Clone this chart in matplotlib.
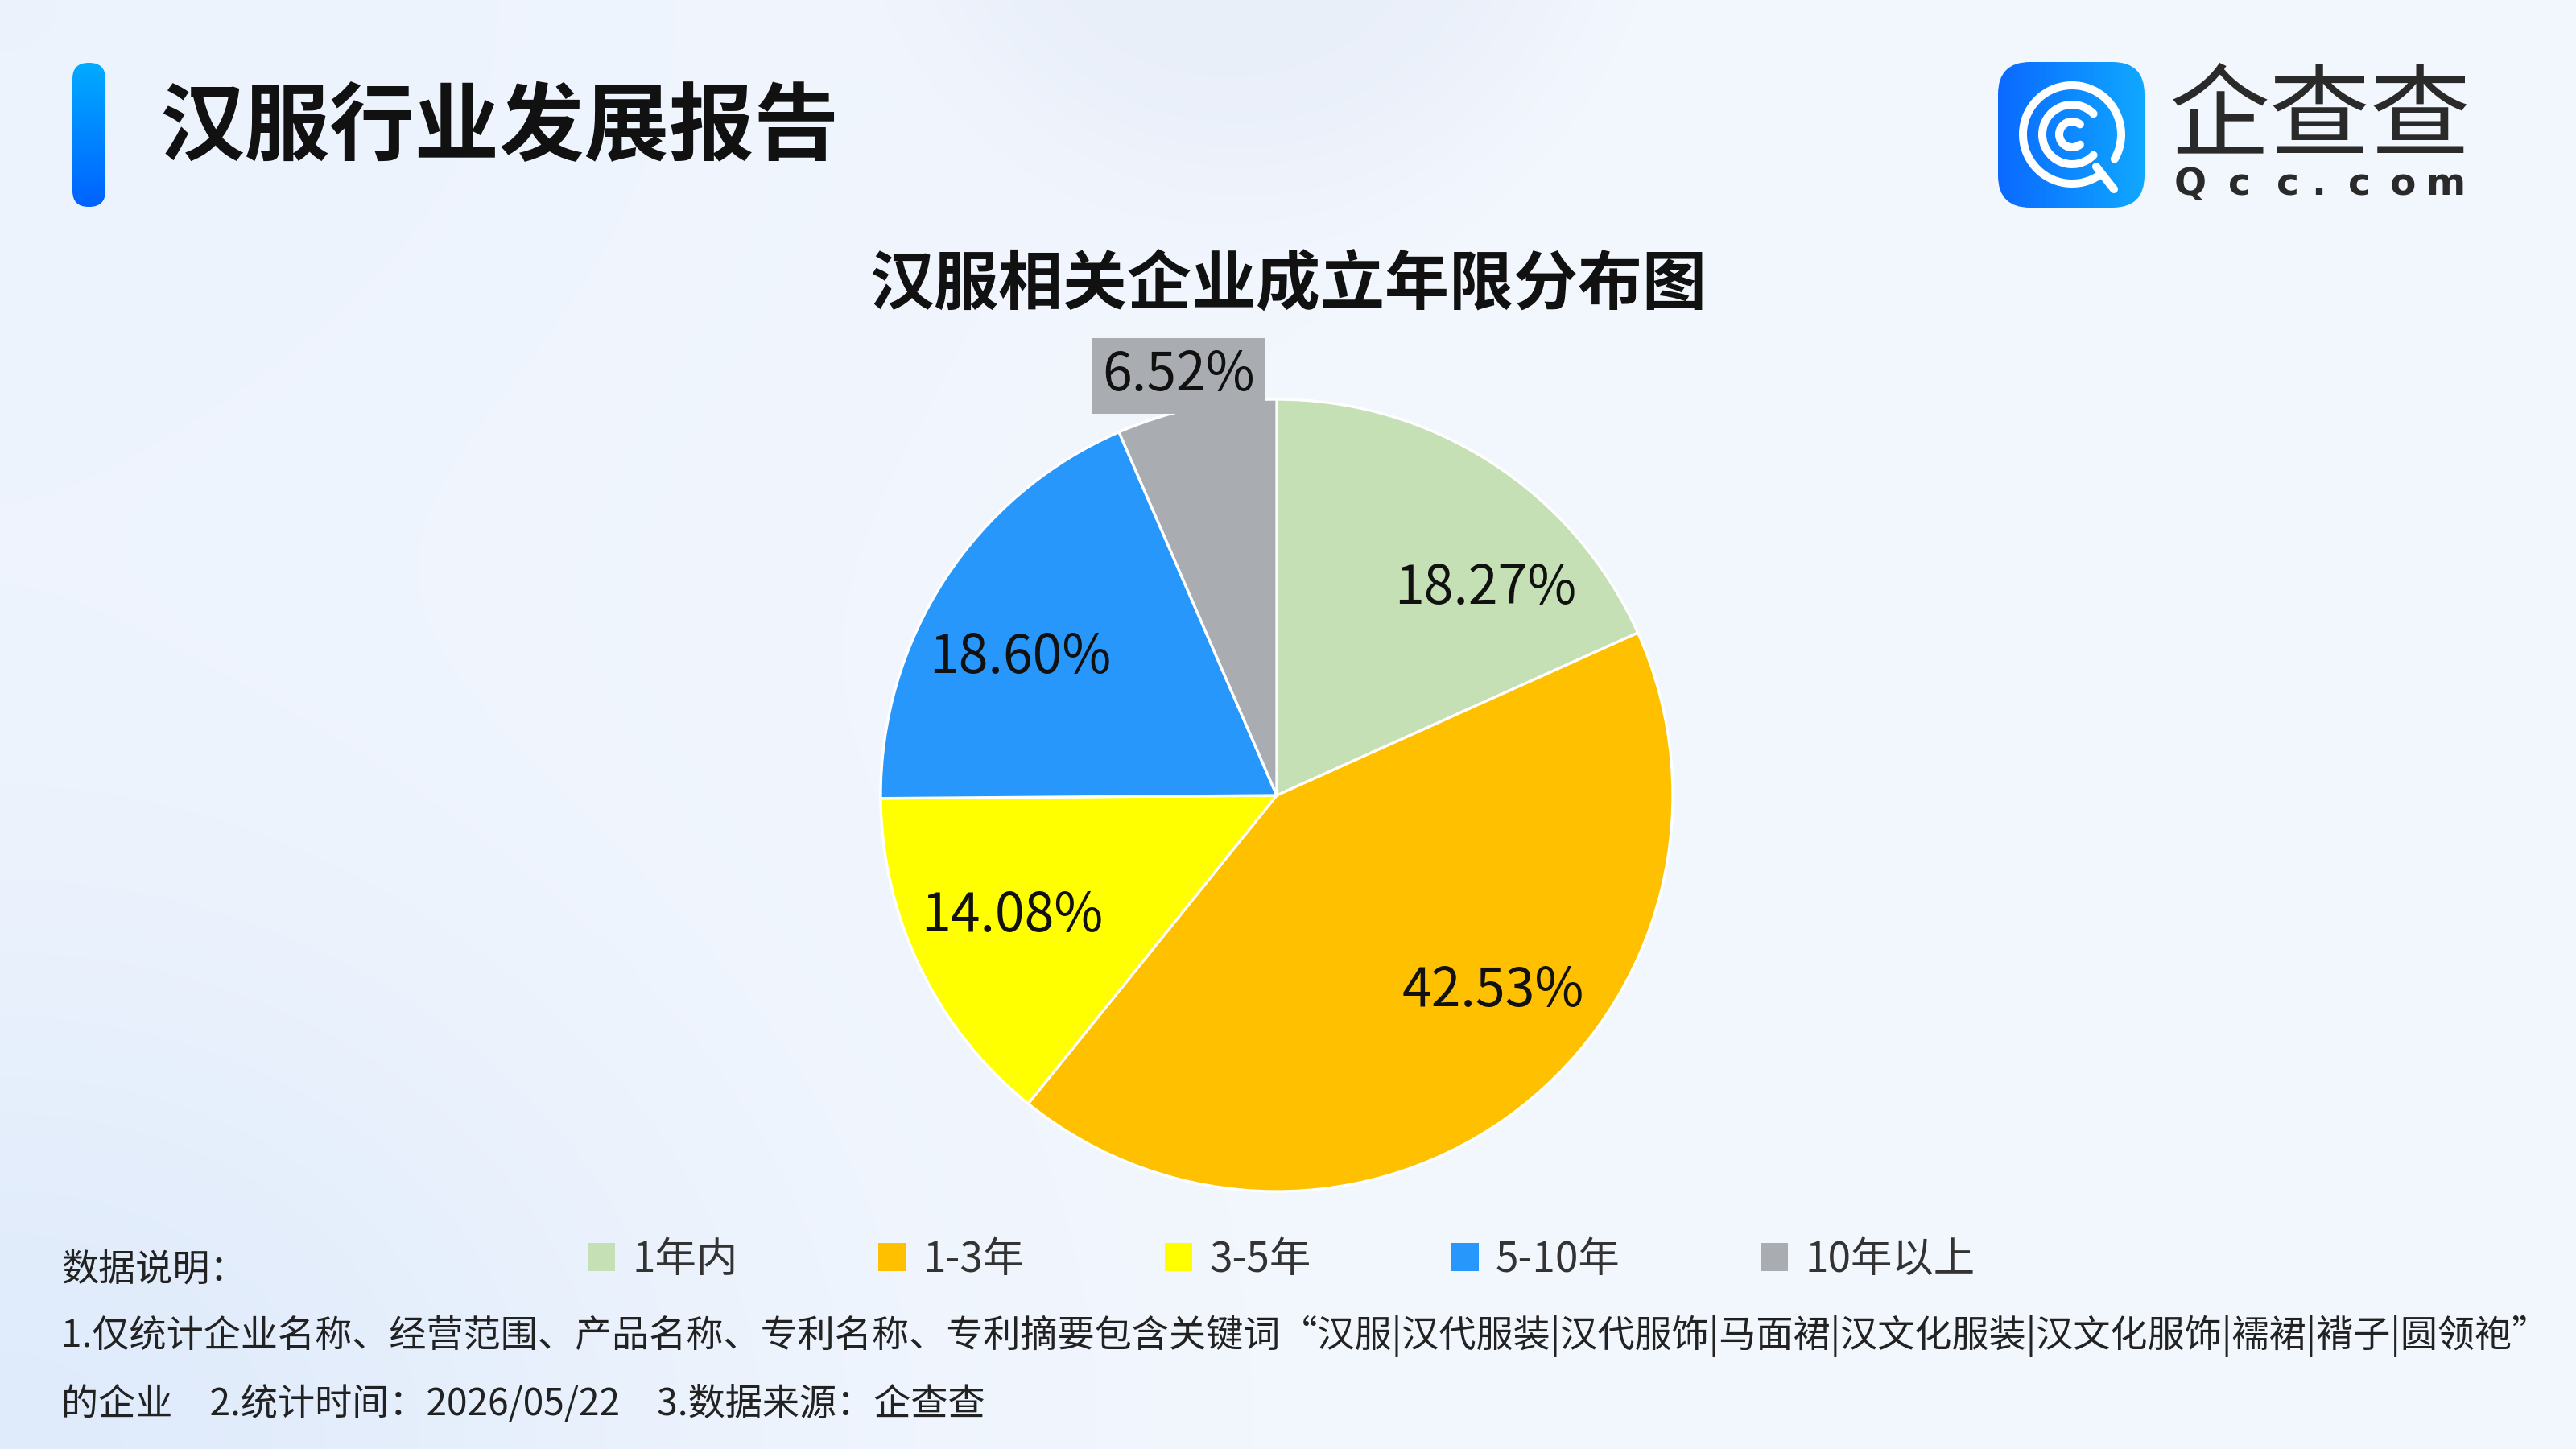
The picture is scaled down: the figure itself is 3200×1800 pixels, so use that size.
import numpy as np
import matplotlib
matplotlib.use('Agg')
import matplotlib.pyplot as plt
from matplotlib.patches import FancyBboxPatch, Arc, Patch
from matplotlib.lines import Line2D

plt.rcParams['font.family'] = ['Noto Sans CJK SC', 'DejaVu Sans']

# ---------------- data ----------------
report_title = '汉服行业发展报告'
chart_title = '汉服相关企业成立年限分布图'
categories = ['1年内', '1-3年', '3-5年', '5-10年', '10年以上']
shares = [18.27, 42.53, 14.08, 18.60, 6.52]
colors = ['#C5E0B4', '#FFC000', '#FFFF00', '#2897FB', '#A9ADB1']
brand_cn = '企查查'
brand_en = 'Qcc.com'
note_head = '数据说明：'
note_line1 = ('1.仅统计企业名称、经营范围、产品名称、专利名称、专利摘要包含关键词'
              '“汉服|汉代服装|汉代服饰|马面裙|汉文化服装|汉文化服饰|襦裙|褙子|圆领袍”')
note_line2 = '的企业\u30002.统计时间：2026/05/22\u30003.数据来源：企查查'

# ---------------- figure ----------------
W, H = 3200, 1800
fig = plt.figure(figsize=(16, 9), dpi=200)

# background
bg = fig.add_axes([0, 0, 1, 1])
bg.axis('off')
X, Y = np.meshgrid(np.linspace(0, W, 640), np.linspace(0, H, 360))
base = np.array([0xF3, 0xF7, 0xFE]) / 255.0
tint = np.array([0xD9, 0xE7, 0xFA]) / 255.0
grey = np.array([0xE6, 0xEC, 0xF7]) / 255.0
w_bl = np.exp(-(((X - 0) / 900.0) ** 2 + ((Y - H) / 700.0) ** 2)) * 0.75
w_tl = np.exp(-(((X - 0) / 1200.0) ** 2 + ((Y - 0) / 900.0) ** 2)) * 0.25
d = np.sqrt((X - 1551) ** 2 + (Y + 180) ** 2)
w_c = 0.7 / (1 + np.exp((d - 400) / 45.0))
img = base[None, None, :] * np.ones(X.shape + (3,))
for w, c in ((w_bl, tint), (w_tl, tint), (w_c, grey)):
    img = img * (1 - w[..., None]) + c[None, None, :] * w[..., None]
bg.imshow(img, extent=(0, W, H, 0), aspect='auto', interpolation='bilinear')
bg.set_xlim(0, W)
bg.set_ylim(H, 0)

# overlay in pixel coordinates (y downward)
ov = fig.add_axes([0, 0, 1, 1])
ov.patch.set_alpha(0)
ov.axis('off')


def grad_box(x0, y0, w, h, c_a, c_b, rs, vertical):
    patch = FancyBboxPatch((x0, y0), w, h, boxstyle=f'round,pad=0,rounding_size={rs}',
                           facecolor='none', edgecolor='none')
    ov.add_patch(patch)
    t = np.linspace(0, 1, 100)
    t = t[:, None, None] if vertical else t[None, :, None]
    a = np.array(matplotlib.colors.to_rgb(c_a))[None, None, :]
    b = np.array(matplotlib.colors.to_rgb(c_b))[None, None, :]
    g = a * (1 - t) + b * t
    im = ov.imshow(g, extent=(x0, x0 + w, y0 + h, y0), aspect='auto', interpolation='bilinear')
    im.set_clip_path(patch)


# header accent bar
grad_box(90, 78, 41, 179, '#00ABFF', '#0062FF', 20, True)
ov.text(198, 160, report_title, fontsize=38, fontweight='bold', color='#111111',
        ha='left', va='center')

# logo
grad_box(2482, 77, 182, 181, '#0B69FF', '#10A8FF', 40, False)
cx, cy = 2574, 167
lw = 3.6


def arc(r, a1, a2):
    # visual angles, counter-clockwise from a1 to a2 (y axis inverted)
    ov.add_patch(Arc((cx, cy), 2 * r, 2 * r, theta1=-a2, theta2=-a1,
                     color='white', lw=lw, capstyle='round'))


arc(61, -30, 304)
arc(37, 44, 316)
arc(16, 52, 308)
ov.add_line(Line2D([cx + 30, cx + 52], [cy + 40, cy + 68], color='white', lw=lw,
                   solid_capstyle='round'))

ov.text(2882, 148, brand_cn, fontsize=45, color='#2A2A2A', ha='center', va='center')
en_x = [2721, 2782, 2842, 2880, 2931, 2985, 3038]
for ch, xx in zip(brand_en, en_x):
    ov.text(xx, 230, ch, fontsize=17, fontweight='bold', color='#2A2A2A',
            ha='center', va='center', family=['DejaVu Sans'])

# chart title
ov.text(1600, 355, chart_title, fontsize=28.8, fontweight='bold', color='#111111',
        ha='center', va='center')

# footer notes
ov.text(76, 1577, note_head, fontsize=16.6, color='#222222', ha='left', va='center')
ov.text(76, 1660, note_line1, fontsize=16.6, color='#222222', ha='left', va='center')
ov.text(76, 1744, note_line2, fontsize=16.6, color='#222222', ha='left', va='center')

ov.set_xlim(0, W)
ov.set_ylim(H, 0)

# ---------------- pie ----------------
R = 492
pcx, pcy = 1586, 988
L = 1.35
wf, hf = 2 * L * R / W, 2 * L * R / H
ax = fig.add_axes([pcx / W - wf / 2, 1 - pcy / H - hf / 2, wf, hf])
ax.patch.set_alpha(0)
wedges, _ = ax.pie(shares, colors=colors, startangle=90, counterclock=False, radius=1,
                   wedgeprops=dict(edgecolor='white', linewidth=1.2))
ax.set_xlim(-L, L)
ax.set_ylim(-L, L)
ax.set_aspect('equal')
ax.axis('off')

label_shift = [-11.7, 10.9, -2.0, 4.0, 1.3]
label_dist = [0.75, 0.73, 0.73, 0.74, 1.10]
for i, (wdg, v) in enumerate(zip(wedges, shares)):
    ang = np.deg2rad((wdg.theta1 + wdg.theta2) / 2 + label_shift[i])
    x, y = label_dist[i] * np.cos(ang), label_dist[i] * np.sin(ang) - 0.012
    kw = {}
    if label_dist[i] > 1:
        kw['bbox'] = dict(boxstyle='square,pad=0.2', facecolor=colors[i], edgecolor='none')
    ax.text(x, y, f'{v:.2f}%', fontsize=23.8, color='#111111', ha='center', va='center', **kw)

# legend
handles = [Patch(facecolor=c, edgecolor='none') for c in colors]
fig.legend(handles, categories, loc='center', bbox_to_anchor=(0.4975, 0.1306), ncol=5,
           frameon=False, fontsize=18.5, handlelength=0.65, handleheight=0.65,
           handletextpad=0.42, columnspacing=3.4, labelcolor='#333333')

fig.savefig('out.png', dpi=200)
